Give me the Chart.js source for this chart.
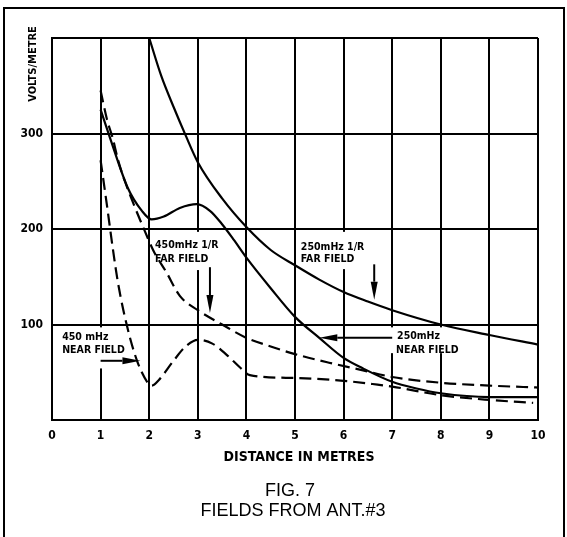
<!DOCTYPE html>
<html>
<head>
<meta charset="utf-8">
<script src="https://cdn.jsdelivr.net/npm/chart.js@4.4.1/dist/chart.umd.min.js"></script>
<style>
html, body { margin: 0; padding: 0; background: #fff; }
</style>
</head>
<body>
<canvas id="chartOne" width="567" height="537"></canvas>
<script>
// curves (x = distance in metres, y = volts/metre)
let far250X = [2, 2.25, 2.5, 2.75, 3, 3.5, 4, 4.5, 5, 5.5, 6, 6.5, 7, 8, 9, 10];
let far250Y = [400, 360, 328, 298, 270, 232, 202, 178, 162, 147, 134, 124, 115, 100, 89, 79];

let solid450X = [1, 1.19, 1.56, 1.85, 2.05, 2.3, 2.63, 2.98, 3.25, 3.5, 3.75, 4, 4.5, 5, 5.5, 6, 6.4, 7, 7.5, 8, 9, 10];
let solid450Y = [325, 296, 243, 219, 210, 213, 222, 226, 219, 205, 188, 170, 138, 108, 86, 65, 54, 40, 33, 28, 24, 24];

let dashUpX = [1, 1.13, 1.25, 1.36, 1.5, 1.68, 1.85, 2.1, 2.35, 2.63, 3, 3.5, 4, 4.5, 5, 5.7, 6.4, 7, 8, 9, 10];
let dashUpY = [345, 315, 295, 272, 250, 226, 205, 176, 155, 130, 115, 100, 86, 77, 69, 60, 52, 45, 39, 36, 34];

let dashLowX = [1, 1.13, 1.25, 1.36, 1.55, 1.75, 1.97, 2.05, 2.2, 2.5, 2.75, 3, 3.3, 3.6, 3.87, 4.07, 5, 6, 6.7, 7, 8, 9, 9.9];
let dashLowY = [272, 225, 180, 143, 97, 62, 39, 36, 42, 62, 77, 84, 80, 68, 55, 47, 44, 41, 37, 35, 26, 21, 18];

let xTickLabels = ['0', '1', '2', '3', '4', '5', '6', '7', '8', '9', '10'];
let yTickLabels = ['', '100', '200', '300', ''];

// notes on the plot, placed in data units: [x, y, text]
let noteTexts = [
    [2.12, 180, '450mHz 1/R'], [2.12, 165, 'FAR FIELD'],
    [5.12, 178, '250mHz 1/R'], [5.12, 165, 'FAR FIELD'],
    [0.21, 84, '450 mHz'], [0.21, 70, 'NEAR FIELD'],
    [7.10, 85, '250mHz'], [7.08, 70, 'NEAR FIELD']
];
// white boxes behind the notes that cut the grid: [x1, yTop, x2, yBottom]
let noteBoxes = [
    [2.05, 197, 3.5, 157],
    [5.05, 197, 6.5, 158],
    [0.06, 97, 1.7, 54],
    [6.9, 97, 8.5, 70]
];
// arrows: [xFrom, yFrom, xTo, yTo]
let noteArrows = [
    [3.25, 160, 3.25, 112],
    [6.63, 163, 6.63, 126],
    [1.0, 62, 1.82, 62],
    [7.0, 86, 5.5, 86]
];

const condensed = '"DejaVu Sans Condensed", "Liberation Sans Narrow", sans-serif';

function toPoints(xs, ys) {
    return xs.map((x, i) => ({ x: x, y: ys[i] }));
}

function drawArrow(ctx, x1, y1, x2, y2) {
    let ang = Math.atan2(y2 - y1, x2 - x1);
    let len = 18, half = 3.5;
    ctx.beginPath();
    ctx.moveTo(x1, y1);
    ctx.lineTo(x2 - Math.cos(ang) * len, y2 - Math.sin(ang) * len);
    ctx.stroke();
    ctx.beginPath();
    ctx.moveTo(x2, y2);
    ctx.lineTo(x2 - Math.cos(ang) * len - Math.sin(ang) * half, y2 - Math.sin(ang) * len + Math.cos(ang) * half);
    ctx.lineTo(x2 - Math.cos(ang) * len + Math.sin(ang) * half, y2 - Math.sin(ang) * len - Math.cos(ang) * half);
    ctx.closePath();
    ctx.fill();
}

const extras = {
    id: 'extras',
    beforeDatasetsDraw(chart) {
        const ctx = chart.ctx;
        const X = v => chart.scales.x.getPixelForValue(v);
        const Y = v => chart.scales.y.getPixelForValue(v);
        ctx.save();
        ctx.fillStyle = '#fff';
        noteBoxes.forEach(b => {
            ctx.fillRect(X(b[0]), Y(b[1]), X(b[2]) - X(b[0]), Y(b[3]) - Y(b[1]));
        });
        ctx.fillStyle = '#000';
        ctx.strokeStyle = '#000';
        ctx.lineWidth = 2;
        ctx.font = 'bold 10.5px ' + condensed;
        ctx.textAlign = 'left';
        ctx.textBaseline = 'alphabetic';
        noteTexts.forEach(t => ctx.fillText(t[2], X(t[0]), Y(t[1])));
        noteArrows.forEach(a => drawArrow(ctx, X(a[0]), Y(a[1]), X(a[2]), Y(a[3])));
        ctx.restore();
    },
    afterDraw(chart) {
        const ctx = chart.ctx;
        const area = chart.chartArea;
        let cx = (area.left + area.right) / 2;
        ctx.save();
        ctx.strokeStyle = '#000';
        ctx.lineWidth = 2;
        ctx.strokeRect(4, 8, 560, 560);   // page frame
        ctx.fillStyle = '#000';
        ctx.textAlign = 'center';
        ctx.textBaseline = 'alphabetic';
        ctx.font = 'bold 14px ' + condensed;
        ctx.fillText('DISTANCE IN METRES', cx + 4, area.bottom + 41);
        ctx.font = '18px "Liberation Sans", Arial, sans-serif';
        ctx.fillText('FIG. 7', cx - 5, area.bottom + 76);
        ctx.fillText('FIELDS FROM ANT.#3', cx - 2, area.bottom + 96);
        // rotated y title at top left
        ctx.translate(33, 64);
        ctx.rotate(-Math.PI / 2);
        ctx.font = 'bold 11px ' + condensed;
        ctx.textBaseline = 'middle';
        ctx.fillText('VOLTS/METRE', 0, 0);
        ctx.restore();
    }
};

const solidStyle = { borderColor: '#000', borderWidth: 2.2, pointRadius: 0, fill: false, cubicInterpolationMode: 'monotone' };
const dashStyle = Object.assign({}, solidStyle, { borderDash: [12, 6] });

var ctx = document.getElementById('chartOne').getContext('2d');
var chartOne = new Chart(ctx, {
    type: 'line',
    data: {
        datasets: [
            Object.assign({ label: '250mHz 1/R far field', data: toPoints(far250X, far250Y) }, solidStyle),
            Object.assign({ label: '450mHz', data: toPoints(solid450X, solid450Y) }, solidStyle),
            Object.assign({ label: 'near field upper', data: toPoints(dashUpX, dashUpY) }, dashStyle),
            Object.assign({ label: 'near field lower', data: toPoints(dashLowX, dashLowY) }, dashStyle)
        ]
    },
    options: {
        responsive: false,
        animation: false,
        layout: { padding: { left: 0, top: 38, right: 29, bottom: 0 } },
        plugins: { legend: { display: false }, tooltip: { enabled: false } },
        scales: {
            x: {
                type: 'linear',
                min: 0,
                max: 10,
                afterFit: s => { s.height = 117; },
                grid: { color: '#000', lineWidth: 2, drawTicks: false },
                border: { color: '#000', width: 2 },
                ticks: {
                    stepSize: 1,
                    autoSkip: false,
                    maxRotation: 0,
                    padding: 9,
                    color: '#000',
                    font: { family: condensed, size: 12, weight: 'bold' },
                    callback: (v, i) => xTickLabels[i]
                }
            },
            y: {
                min: 0,
                max: 400,
                afterFit: s => { s.width = 52; },
                grid: { color: '#000', lineWidth: 2, drawTicks: false },
                border: { color: '#000', width: 2 },
                ticks: {
                    stepSize: 100,
                    padding: 9,
                    color: '#000',
                    font: { family: condensed, size: 12, weight: 'bold' },
                    callback: (v, i) => yTickLabels[i]
                }
            }
        }
    },
    plugins: [extras]
});
</script>
</body>
</html>
